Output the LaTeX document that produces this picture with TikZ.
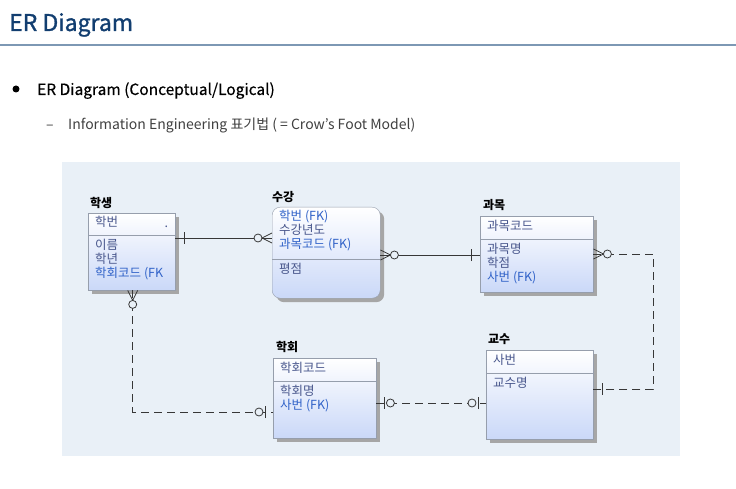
\documentclass[tikz,border=0pt]{standalone}
\usepackage{fontspec}
\setmainfont{Noto Sans CJK KR}
\newfontfamily\headfont[FakeBold=1.2]{Noto Sans CJK KR}
\newfontfamily\bulletfont[FakeBold=0.4]{Noto Sans CJK KR}
\usetikzlibrary{positioning,shadows,calc}

\definecolor{titleblue}{RGB}{18,62,112}
\definecolor{ruleblue}{RGB}{125,152,180}
\definecolor{diagbg}{RGB}{233,240,247}
\definecolor{attrcol}{RGB}{72,86,140}
\definecolor{fkcol}{RGB}{48,98,200}
\definecolor{boxline}{RGB}{150,158,172}
\definecolor{boxbot}{RGB}{202,216,248}
\definecolor{relcol}{RGB}{55,55,55}

\tikzset{
  entity/.style={draw=boxline, top color=white, bottom color=boxbot,
    anchor=north west, inner sep=0pt,
    drop shadow={shadow xshift=4pt, shadow yshift=-4pt, fill=black!35, opacity=1}},
  ename/.style={inner sep=0pt, font=\fontsize{12}{14}\selectfont\bfseries},
  attr/.style={inner sep=0pt, align=left, text=attrcol, font=\fontsize{12.5}{14}\selectfont},
  rel/.style={draw=relcol, line width=0.8pt},
  idash/.style={rel, dash pattern=on 8pt off 5pt},
  sym/.style={draw=relcol, line width=0.8pt, solid},
  many0/.pic={\draw[sym] (0,-5) -- (10,0) (0,5) -- (10,0);
              \draw[sym, fill=diagbg] (14,0) circle [radius=4];},
  one1/.pic={\draw[sym] (9,-6) -- (9,6);},
  one0/.pic={\draw[sym] (8,-6) -- (8,6);
             \draw[sym, fill=diagbg] (14,0) circle [radius=4];}
}

\begin{document}
\begin{tikzpicture}[x=1pt, y=-1pt]
  \useasboundingbox (0,0) rectangle (736,489);
  % heading
  \node[anchor=base west, inner sep=0pt, text=titleblue, font=\headfont\fontsize{23}{26}\selectfont] (title) at (9,31) {ER Diagram};
  \draw[ruleblue, line width=1.5pt] (0,45) -- (736,45);
  \fill (16,89) circle [radius=3.5];
  \node[anchor=base west, inner sep=0pt, font=\bulletfont\fontsize{15.5}{18}\selectfont] (bullet) at (37,95) {ER Diagram (Conceptual/Logical)};
  \node[anchor=base west, inner sep=0pt, text=black!75, font=\fontsize{14}{16}\selectfont] (dash) at (46,130) {–};
  \node[anchor=base west, inner sep=0pt, text=black!75, font=\fontsize{14}{16}\selectfont] (sub) at (68,130) {Information Engineering 표기법 ( = Crow’s Foot Model)};
  % diagram area
  \fill[diagbg] (62,162) rectangle (680,456);
  % entities
  \node[entity, minimum width=87pt, minimum height=77pt] (stu) at (88,213) {};
  \node[entity, rounded corners=8pt, minimum width=108pt, minimum height=91pt] (enr) at (272,207) {};
  \node[entity, minimum width=113pt, minimum height=76pt] (crs) at (480,216) {};
  \node[entity, minimum width=103pt, minimum height=80pt] (club) at (273,358) {};
  \node[entity, minimum width=107pt, minimum height=89pt] (prof) at (486,350) {};
  % separators
  \draw[boxline] ($(stu.north west)+(0,22)$) -- ($(stu.north east)+(0,22)$);
  \draw[boxline] ($(enr.north west)+(0,52)$) -- ($(enr.north east)+(0,52)$);
  \draw[boxline] ($(crs.north west)+(0,23)$) -- ($(crs.north east)+(0,23)$);
  \draw[boxline] ($(club.north west)+(0,23)$) -- ($(club.north east)+(0,23)$);
  \draw[boxline] ($(prof.north west)+(0,23)$) -- ($(prof.north east)+(0,23)$);
  % entity names
  \node[ename, above right=4pt and 2pt of stu.north west] (stu-n) {학생};
  \node[ename, above right=4pt and 0pt of enr.north west] (enr-n) {수강};
  \node[ename, above right=5pt and 3pt of crs.north west] (crs-n) {과목};
  \node[ename, above right=5pt and 3pt of club.north west] (club-n) {학회};
  \node[ename, above right=5pt and 2pt of prof.north west] (prof-n) {교수};
  % attributes
  \node[attr, below right=3pt and 7pt of stu.north west] (stu-k) {학번};
  \node[attr, anchor=base] (stu-d) at ($(stu.north east)+(-9,15)$) {.};
  \node[attr, below right=26pt and 7pt of stu.north west] (stu-a) {이름\\학년\\\textcolor{fkcol}{학회코드 (FK}};
  \node[attr, below right=3pt and 7pt of enr.north west] (enr-k) {\textcolor{fkcol}{학번 (FK)}\\수강년도\\\textcolor{fkcol}{과목코드 (FK)}};
  \node[attr, below right=56pt and 7pt of enr.north west] (enr-a) {평점};
  \node[attr, below right=4pt and 7pt of crs.north west] (crs-k) {과목코드};
  \node[attr, below right=27pt and 7pt of crs.north west] (crs-a) {과목명\\학점\\\textcolor{fkcol}{사번 (FK)}};
  \node[attr, below right=4pt and 7pt of club.north west] (club-k) {학회코드};
  \node[attr, below right=27pt and 7pt of club.north west] (club-a) {학회명\\\textcolor{fkcol}{사번 (FK)}};
  \node[attr, below right=4pt and 7pt of prof.north west] (prof-k) {사번};
  \node[attr, below right=27pt and 7pt of prof.north west] (prof-a) {교수명};
  % relationships
  \draw[rel] ($(stu.north east)+(0,25)$) coordinate (a1) -- (a1 -| enr.west) coordinate (a2);
  \pic at (a1) {one1};
  \pic[rotate=180] at (a2) {many0};
  \draw[rel] ($(enr.north east)+(0,48)$) coordinate (b1) -- (b1 -| crs.west) coordinate (b2);
  \pic at (b1) {many0};
  \pic[rotate=180] at (b2) {one1};
  \coordinate (c1) at ($(crs.north east)+(0,38)$);
  \coordinate (c3) at ($(prof.north east)+(0,39)$);
  \draw[idash] (c1) -| ($(c3)+(60,0)$) -- (c3);
  \pic at (c1) {many0};
  \pic at (c3) {one1};
  \coordinate (d1) at ($(stu.south)+(1,0)$);
  \coordinate (d2) at ($(club.north west)+(0,54)$);
  \draw[idash] (d1) |- (d2);
  \pic[rotate=-90] at (d1) {many0};
  \pic[rotate=180] at (d2) {one0};
  \draw[idash] ($(club.north east)+(0,45)$) coordinate (e1) -- (e1 -| prof.west) coordinate (e2);
  \pic at (e1) {one0};
  \pic[rotate=180] at (e2) {one0};
\end{tikzpicture}
\end{document}
